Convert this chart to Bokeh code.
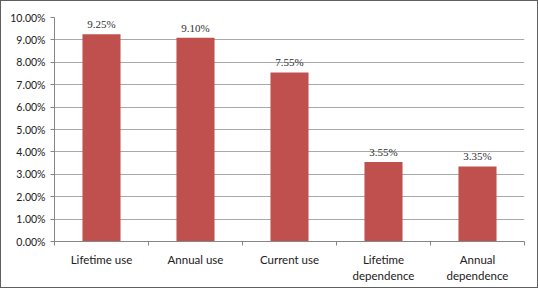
from bokeh.plotting import figure
from bokeh.models import ColumnDataSource, FixedTicker, Range1d, LabelSet
from bokeh.embed import file_html
from bokeh.resources import INLINE

categories = ["Lifetime use", "Annual use", "Current use", "Lifetime\ndependence", "Annual\ndependence"]
values = [9.25, 9.10, 7.55, 3.55, 3.35]
value_labels = ["9.25%", "9.10%", "7.55%", "3.55%", "3.35%"]
y_ticks = [0, 1, 2, 3, 4, 5, 6, 7, 8, 9, 10]
y_tick_labels = ["0.00%", "1.00%", "2.00%", "3.00%", "4.00%", "5.00%", "6.00%", "7.00%", "8.00%", "9.00%", "10.00%"]

xs = [i + 0.5 for i in range(len(categories))]
src = ColumnDataSource(dict(x=xs, top=values, lab=value_labels))

p = figure(width=538, height=288, output_backend="svg", toolbar_location=None,
           x_range=Range1d(0, len(categories)), y_range=Range1d(0, 10),
           min_border_left=53, min_border_right=15, min_border_top=16, min_border_bottom=48)
p.styles = {"border": "1px solid #5f5f5f", "box-sizing": "border-box"}
p.outline_line_color = None
p.background_fill_color = "white"
p.border_fill_color = "white"

p.vbar(x="x", top="top", width=0.405, source=src, fill_color="#C0504D", line_color=None)

labels = LabelSet(x="x", y="top", text="lab", source=src, text_align="center",
                  text_baseline="bottom", y_offset=4, text_font="Lato",
                  text_font_size="11px", text_color="#303030")
p.add_layout(labels)

# x axis
xt = FixedTicker(ticks=xs, minor_ticks=list(range(len(categories) + 1)))
p.xaxis.ticker = xt
p.xaxis.major_label_overrides = {x: c for x, c in zip(xs, categories)}
p.xaxis.major_tick_line_color = None
p.xaxis.minor_tick_line_color = "#868686"
p.xaxis.minor_tick_out = 4
p.xaxis.minor_tick_in = 0
p.xaxis.axis_line_color = "#868686"
p.xaxis.major_label_text_font = "Lato"
p.xaxis.major_label_text_font_size = "11.5px"
p.xaxis.major_label_text_color = "#202020"
p.xaxis.major_label_text_line_height = 1.25
p.xaxis.major_label_standoff = 5
p.xgrid.grid_line_color = None

# y axis
p.yaxis.ticker = FixedTicker(ticks=y_ticks, minor_ticks=[])
p.yaxis.major_label_overrides = {t: l for t, l in zip(y_ticks, y_tick_labels)}
p.yaxis.axis_line_color = "#868686"
p.yaxis.major_tick_line_color = "#868686"
p.yaxis.major_tick_out = 4
p.yaxis.major_tick_in = 0
p.yaxis.minor_tick_line_color = None
p.yaxis.major_label_text_font = "Lato"
p.yaxis.major_label_text_font_size = "10.5px"
p.yaxis.major_label_text_color = "#202020"
p.yaxis.major_label_standoff = 5
p.ygrid.grid_line_color = "#a8a8a8"
p.ygrid.ticker = FixedTicker(ticks=y_ticks[1:])

open("out.html", "w").write(file_html(p, INLINE))
